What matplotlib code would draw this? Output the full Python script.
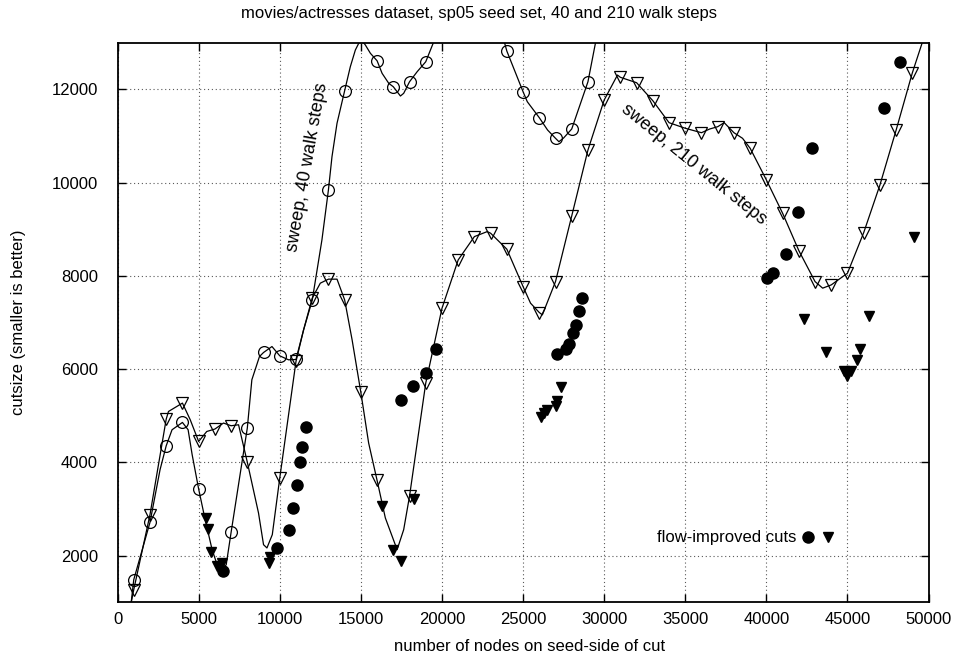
import numpy as np
import matplotlib.pyplot as plt
from matplotlib.legend_handler import HandlerTuple

plt.rcParams['font.family'] = ['Liberation Sans', 'DejaVu Sans']

# sweep curve, 40 walk steps (line vertices)
sweep40_x = [700, 1000, 2000, 2620, 3000, 3360, 4000, 4350, 4600, 5000, 5400, 5830,
             6200, 6450, 6700, 7000, 8000, 8280, 8750, 9000, 9520, 10000, 10540,
             11000, 11470, 12000, 12600, 13000, 13220, 13530, 14000, 14350, 14660,
             15000, 15280, 15590, 16000, 16310, 16720, 17000, 17440, 17640, 18000,
             18470, 19000, 19700, 23700, 24000, 25000, 25260, 25460, 26000, 26510,
             27000, 27210, 27500, 28000, 29000, 29800]
sweep40_y = [560, 1486, 2714, 3843, 4357, 4700, 4857, 4700, 4164, 3429, 2772, 2128,
             1743, 1679, 1807, 2499, 4737, 5772, 6271, 6357, 6485, 6286, 6200,
             6207, 6843, 7475, 8772, 9843, 10557, 11273, 11971, 12486, 12844,
             13080, 12951, 12773, 12614, 12344, 12130, 12057, 11858, 11916, 12164,
             12379, 12593, 13200, 13200, 12822, 11950, 11736, 11643, 11393, 11129,
             10951, 10878, 10958, 11151, 12164, 13600]
# open circle markers on the 40-step sweep
mark40_x = [1000, 2000, 3000, 4000, 5000, 7000, 8000, 9000, 10000, 11000, 12000,
            13000, 14000, 16000, 17000, 18000, 19000, 24000, 25000, 26000, 27000,
            28000, 29000]
mark40_y = [1486, 2714, 4357, 4857, 3429, 2499, 4737, 6357, 6286, 6207, 7475,
            9843, 11971, 12614, 12057, 12164, 12593, 12822, 11950, 11393, 10951,
            11151, 12164]

# sweep curve, 210 walk steps (line vertices)
sweep210_x = [700, 1000, 2000, 3000, 3140, 4000, 4480, 5000, 5500, 6000, 6530, 7000,
              7460, 8000, 8690, 9000, 9210, 9540, 10000, 11000, 11470, 12000, 12500,
              13000, 13530, 14000, 14460, 15000, 15480, 16000, 16510, 17235, 17640,
              18000, 19000, 20000, 21000, 22000, 22790, 23000, 24000, 25000, 25460,
              26000, 26190, 27000, 28000, 29000, 30000, 30820, 31000, 32000, 33000,
              34000, 35000, 36000, 36500, 37000, 37400, 38000, 38530, 39000, 40000,
              41000, 42000, 43000, 43470, 44000, 45000, 46000, 47000, 48000, 49000,
              49700]
sweep210_y = [750, 1271, 2879, 4929, 5092, 5272, 4915, 4449, 4663, 4715, 4844, 4786,
              4807, 4004, 2915, 2235, 2165, 2450, 3665, 6164, 6843, 7522, 7844,
              7930, 7930, 7486, 6629, 5500, 4415, 3614, 2808, 2128, 2557,
              3275, 5701, 7304, 8343, 8843, 8950, 8915, 8573, 7771, 7415,
              7214, 7165, 7878, 9286, 10700, 11772, 12308, 12259, 12143, 11757,
              11286, 11166, 11071, 11150, 11200, 11286, 11071, 10951, 10737, 10058,
              9344, 8543, 7878, 7737, 7807, 8058, 8928, 9950, 11129, 12357,
              13100]
# open triangle markers on the 210-step sweep
mark210_x = [1000, 2000, 3000, 4000, 5000, 6000, 7000, 8000, 10000, 11000, 12000,
             13000, 14000, 15000, 16000, 18000, 19000, 20000, 21000, 22000, 23000,
             24000, 25000, 26000, 27000, 28000, 29000, 30000, 31000, 32000, 33000,
             34000, 35000, 36000, 37000, 38000, 39000, 40000, 41000, 42000, 43000,
             44000, 45000, 46000, 47000, 48000, 49000]
mark210_y = [1271, 2879, 4929, 5272, 4449, 4715, 4786, 4004, 3665, 6164, 7522,
             7930, 7486, 5500, 3614, 3275, 5701, 7304, 8343, 8843, 8915,
             8573, 7771, 7214, 7878, 9286, 10700, 11772, 12259, 12143, 11757,
             11286, 11166, 11071, 11200, 11071, 10737, 10058, 9344, 8543, 7878,
             7807, 8058, 8928, 9950, 11129, 12357]

# flow-improved cuts from the 40-step sweep (filled circles)
flow40_x = [6530, 9830, 10540, 10815, 11060, 11220, 11370, 11600, 17490, 18200,
            19025, 19660, 27070, 27620, 27830, 28070, 28240, 28440, 28650, 40010,
            40420, 41200, 41930, 42790, 47235, 48260]
flow40_y = [1664, 2165, 2557, 3014, 3515, 3999, 4325, 4758, 5328, 5637,
            5928, 6436, 6322, 6430, 6543, 6772, 6950, 7257, 7522, 7951,
            8071, 8465, 9378, 10750, 11607, 12593]

# flow-improved cuts from the 210-step sweep (filled triangles)
flow210_x = [5450, 5570, 5785, 6120, 6410, 9410, 9310, 16300, 16990, 17470, 18260,
             26120, 26265, 26480, 27005, 27110, 27360, 42330, 43670, 44800, 45215,
             45000, 45570, 45770, 46350, 49090]
flow210_y = [2797, 2572, 2075, 1781, 1835, 1974, 1850, 3071, 2118, 1893, 3215,
             4964, 5058, 5129, 5199, 5307, 5615, 7079, 6365, 5950, 5950,
             5857, 6200, 6436, 7150, 8843]

fig = plt.figure(figsize=(9.58, 6.58), dpi=100)
ax = fig.add_axes([0.1227, 0.0847, 0.8466, 0.8503])

ax.plot(sweep40_x, sweep40_y, color='black', lw=0.9)
ax.plot(sweep210_x, sweep210_y, color='black', lw=0.9)
ax.plot(mark40_x, mark40_y, 'o', ms=8.5, mfc='none', mec='black', mew=0.9)
ax.plot(mark210_x, mark210_y, 'v', ms=9, mfc='none', mec='black', mew=0.9)
c_pts, = ax.plot(flow40_x, flow40_y, 'o', ms=8, color='black', ls='none')
t_pts, = ax.plot(flow210_x, flow210_y, 'v', ms=7, color='black', ls='none')

ax.set_xlim(0, 50000)
ax.set_ylim(1000, 13000)
ax.set_xticks(np.arange(0, 50001, 5000))
ax.set_yticks(np.arange(2000, 12001, 2000))
ax.tick_params(direction='in', length=6, width=1, top=True, right=True,
               labelsize=12)
ax.tick_params(axis='x', pad=7)
ax.tick_params(axis='y', pad=14)
ax.grid(True, color='0.35', linestyle=(0, (1, 2.5)), lw=0.8)
for s in ax.spines.values():
    s.set_linewidth(1.3)

ax.text(11680, 10340, 'sweep, 40 walk steps', rotation=80, fontsize=13,
        ha='center', va='center', rotation_mode='anchor')
ax.text(35520, 10400, 'sweep, 210 walk steps', rotation=-39, fontsize=13,
        ha='center', va='center', rotation_mode='anchor')

ax.legend(handles=[(c_pts, t_pts)], labels=['flow-improved cuts'],
          handler_map={tuple: HandlerTuple(ndivide=None, pad=0.4)},
          markerfirst=False, frameon=False, loc='center right',
          bbox_to_anchor=(0.903, 0.115), fontsize=12, handlelength=2.0,
          handletextpad=0.3)

fig.text(0.5, 0.98, 'movies/actresses dataset, sp05 seed set, 40 and 210 walk steps',
         ha='center', va='center', fontsize=12)
fig.text(0.553, 0.017, 'number of nodes on seed-side of cut', ha='center',
         va='center', fontsize=12)
fig.text(0.019, 0.51, 'cutsize (smaller is better)', ha='center', va='center',
         rotation=90, fontsize=12)

fig.savefig('out.png', dpi=100)
